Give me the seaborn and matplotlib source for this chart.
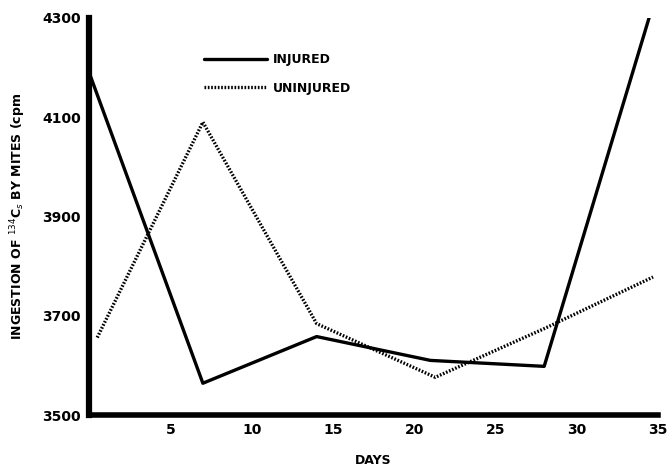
import matplotlib
matplotlib.use("Agg")
import matplotlib.pyplot as plt
import seaborn as sns
import pandas as pd
from matplotlib.lines import Line2D

days_injured = [0, 7, 14, 21, 28, 34.5]
injured = [4190, 3564, 3658, 3610, 3598, 4305]
days_uninjured = [0.5, 7, 14, 21.3, 28, 34.7]
uninjured = [3656, 4090, 3684, 3576, 3674, 3778]
x_ticks = [5, 10, 15, 20, 25, 30, 35]
y_ticks = [3500, 3700, 3900, 4100, 4300]
series_names = ["INJURED", "UNINJURED"]

df = pd.concat([
    pd.DataFrame({"day": days_injured, "cpm": injured, "group": series_names[0]}),
    pd.DataFrame({"day": days_uninjured, "cpm": uninjured, "group": series_names[1]}),
])

sns.set_style("white")
plt.rcParams["font.family"] = ["DejaVu Sans"]
plt.rcParams["text.color"] = "black"
plt.rcParams["axes.labelcolor"] = "black"
plt.rcParams["xtick.color"] = "black"
plt.rcParams["ytick.color"] = "black"

fig = plt.figure(figsize=(6.7, 4.7), dpi=100)
ax = fig.add_axes([0.133, 0.117, 0.849, 0.845])

sns.lineplot(data=df, x="day", y="cpm", hue="group", style="group",
             palette={series_names[0]: "black", series_names[1]: "black"},
             dashes={series_names[0]: "", series_names[1]: (0.5, 0.5)},
             linewidth=2.4, sort=False, estimator=None, ax=ax, legend=False)

ax.set_xlim(0, 35)
ax.set_ylim(3500, 4300)
ax.set_xticks(x_ticks)
ax.set_yticks(y_ticks)
ax.set_yticks([3600, 3800, 4000, 4200], minor=True)
ax.set_xticklabels([str(t) for t in x_ticks], fontsize=10, fontweight="bold")
ax.set_yticklabels([str(t) for t in y_ticks], fontsize=10, fontweight="bold")
ax.tick_params(axis="both", which="major", direction="out", length=4, width=1, pad=2, color="black")
ax.tick_params(axis="y", which="minor", direction="out", length=3, width=1, color="black")

for s in ["top", "right"]:
    ax.spines[s].set_visible(False)
ax.spines["left"].set_linewidth(4.5)
ax.spines["bottom"].set_linewidth(4)
ax.spines["left"].set_color("black")
ax.spines["bottom"].set_color("black")

ax.set_xlabel("DAYS", fontsize=9, fontweight="bold", labelpad=12)
ax.set_ylabel(r"INGESTION OF $^{134}$C$_{s}$ BY MITES (cpm", fontsize=9,
              fontweight="bold", labelpad=10)

handles = [Line2D([], [], color="black", lw=2.4),
           Line2D([], [], color="black", lw=2.4, dashes=(0.5, 0.5))]
ax.legend(handles, series_names, loc="upper left", bbox_to_anchor=(0.183, 0.94),
          frameon=False, handlelength=5.0, handletextpad=0.5, labelspacing=1.25,
          prop={"weight": "bold", "size": 9})

fig.savefig("out.png", dpi=100)
